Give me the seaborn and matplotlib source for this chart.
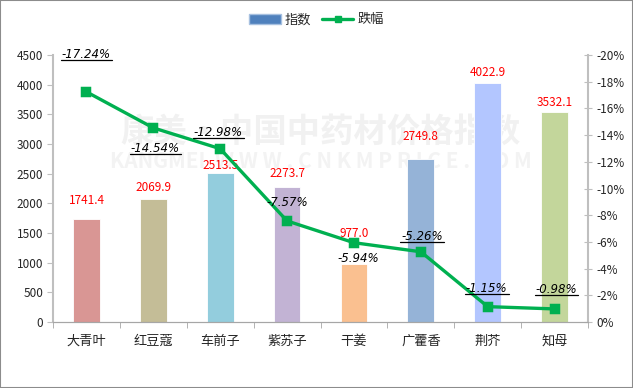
import numpy as np
import pandas as pd
import seaborn as sns
import matplotlib.pyplot as plt
from matplotlib.lines import Line2D
from matplotlib.patches import Patch
from matplotlib.ticker import FixedLocator, FuncFormatter

# chart data
herbs = ['大青叶', '红豆蔻', '车前子', '紫苏子', '干姜', '广藿香', '荆芥', '知母']
index_vals = [1741.4, 2069.9, 2513.5, 2273.7, 977.0, 2749.8, 4022.9, 3532.1]
drop_pct = [17.24, 14.54, 12.98, 7.57, 5.94, 5.26, 1.15, 0.98]
underlined = [True, True, True, False, False, True, True, True]
bar_colors = ['#D99694', '#C4BD97', '#93CDDD', '#C2B3D4', '#FAC090', '#95B3D7', '#B3C6FF', '#C3D69B']
line_color = '#00B050'

# label offsets in pixels (dx, dy) relative to the mark
bar_lab_dy = [18, 12, 7, 14, 31, 22, 11, 10]
pct_lab_off = [(0, 37), (2, -21), (-2, 16), (0, 18), (4, -16), (1, 15), (-1, 18), (2, 19)]

sns.set_style('white')
plt.rcParams['font.family'] = ['Noto Sans CJK SC', 'DejaVu Sans']

fig = plt.figure(figsize=(6.33, 3.88), dpi=100)
ax = fig.add_axes([53 / 633, 66 / 388, 535 / 633, 267 / 388])

df = pd.DataFrame({'herb': herbs, 'value': index_vals})
sns.barplot(data=df, x='herb', y='value', hue='herb', palette=bar_colors, saturation=1,
            width=0.4, legend=False, ax=ax, edgecolor='white', linewidth=0.6)
ax.set_ylim(0, 4500)
ax.set_xlim(-0.5, len(herbs) - 0.5)
ax.set_yticks(np.arange(0, 4501, 500))
ax.set_xlabel('')
ax.set_ylabel('')

# watermark
ax.text(0.5, 0.71, '康美·中国中药材价格指数', transform=ax.transAxes, ha='center', va='center',
        fontsize=24, fontweight='bold', color='#F1F1F1', zorder=0)
ax.text(0.5, 0.6, 'KANGMEI  W W W . C N K M P R I C E . C O M', transform=ax.transAxes,
        ha='center', va='center', fontsize=15, fontweight='bold', color='#F3F3F3', zorder=0)

for i, v in enumerate(index_vals):
    ax.annotate('%.1f' % v, xy=(i, v), xytext=(0, bar_lab_dy[i]), textcoords='offset pixels',
                ha='center', va='center', color='red', fontsize=8.5, zorder=5)

ax2 = ax.twinx()
ax2.set_position(ax.get_position())
sns.pointplot(x=herbs, y=drop_pct, ax=ax2, color=line_color, markers='s',
              markersize=6, linewidth=2.4)
ax2.set_ylim(0, 20)
ax2.set_xlim(-0.5, len(herbs) - 0.5)
ax2.set_yticks(np.arange(0, 21, 2))
ax2.yaxis.set_major_formatter(FuncFormatter(lambda v, p: '0%' if v == 0 else '-%d%%' % v))

pct_texts = []
for i, v in enumerate(drop_pct):
    dx, dy = pct_lab_off[i]
    t = ax2.annotate('-%.2f%%' % v, xy=(i, v), xytext=(dx, dy), textcoords='offset pixels',
                     ha='center', va='center', fontsize=8.5, style='italic', color='black',
                     family='DejaVu Sans', zorder=6)
    pct_texts.append(t)

# spines and ticks
for a in (ax, ax2):
    for s in a.spines.values():
        s.set_visible(False)
    a.spines['bottom'].set_visible(True)
    a.spines['bottom'].set_color('#A6A6A6')
ax.spines['left'].set_visible(True)
ax.spines['left'].set_color('#BFBFBF')
ax.spines['left'].set_linewidth(1.5)
ax2.spines['right'].set_visible(True)
ax2.spines['right'].set_color('#BFBFBF')
ax2.spines['right'].set_linewidth(1.5)

ax.tick_params(axis='y', left=True, length=4, color='#BFBFBF', labelsize=8.5, pad=3)
ax2.tick_params(axis='y', right=True, direction='inout', length=6, color='#BFBFBF', labelsize=8.5, pad=3)
ax.xaxis.set_minor_locator(FixedLocator(np.arange(-0.5, len(herbs), 1)))
ax.tick_params(axis='x', which='major', length=0, labelsize=9.5, pad=9)
ax.tick_params(axis='x', which='minor', bottom=True, length=4, color='#A6A6A6')
ax2.tick_params(axis='x', bottom=False, labelbottom=False)

# legend
handles = [Patch(facecolor='#4F81BD', edgecolor='#A6C0E0'),
           Line2D([0], [0], color=line_color, lw=2.4, marker='s', markersize=5)]
fig.legend(handles, ['指数', '跌幅'], loc='center', bbox_to_anchor=(0.5, 1 - 20 / 388),
           ncol=2, frameon=False, fontsize=9.5, handlelength=2.4, handleheight=0.8,
           columnspacing=0.8, handletextpad=0.3)

# outer border
fig.patches.append(plt.Rectangle((0, 0), 1, 1, transform=fig.transFigure, fill=False,
                                 edgecolor='#8C8C8C', linewidth=1.5))

# underline some of the percentage labels
fig.canvas.draw()
r = fig.canvas.get_renderer()
for t, u in zip(pct_texts, underlined):
    if not u:
        continue
    bb = t.get_window_extent(r)
    fig.add_artist(Line2D([bb.x0 - 1, bb.x1 + 1], [bb.y0 + 1, bb.y0 + 1], color='black',
                          lw=0.9, transform=None))

fig.savefig('out.png', dpi=100)
